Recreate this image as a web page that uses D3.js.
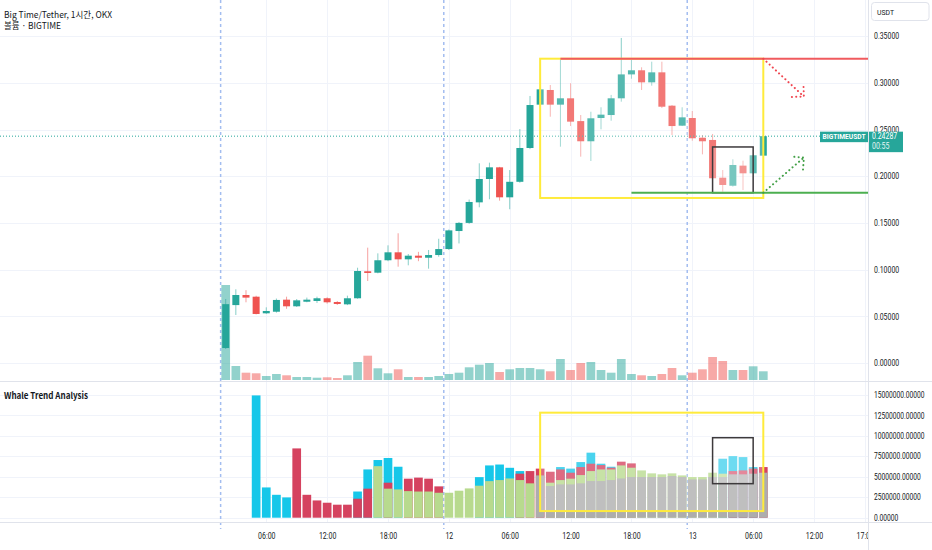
<!DOCTYPE html>
<html>
<head>
<meta charset="utf-8">
<script src="https://cdn.jsdelivr.net/npm/d3@7"></script>
<style>
  body { margin: 0; background: #fff; }
  svg { display: block; }
  text { font-family: "Liberation Sans Narrow", "Noto Sans CJK KR", Roboto, sans-serif; fill: #131722; }
</style>
</head>
<body>
<div id="chart"></div>
<script>
// ---- data ----
const startTime = "2023-10-11T02:00:00Z";   // first 1h candle
const opens  = [0.016,0.062,0.0728,0.071,0.0532,0.0549,0.0678,0.0607,0.0656,0.0664,0.0693,0.0653,0.0628,0.0693,0.0982,0.0967,0.110,0.1185,0.111,0.1149,0.1127,0.1156,0.122,0.1413,0.150,0.172,0.197,0.2095,0.1774,0.194,0.2302,0.2766,0.2923,0.2766,0.2834,0.259,0.2374,0.2623,0.2655,0.2834,0.309,0.3134,0.3005,0.3112,0.2755,0.2541,0.2623,0.2412,0.2388,0.1984,0.1898,0.2113,0.2031,0.222];
const highs  = [0.0685,0.0789,0.078,0.072,0.0596,0.069,0.071,0.0685,0.070,0.071,0.0703,0.0664,0.0721,0.102,0.1235,0.1174,0.126,0.1389,0.1167,0.119,0.121,0.133,0.143,0.151,0.175,0.2138,0.2145,0.210,0.2066,0.2505,0.2859,0.294,0.2976,0.325,0.2995,0.2655,0.269,0.2738,0.287,0.348,0.3244,0.3166,0.3226,0.3226,0.2762,0.2738,0.2698,0.2441,0.2452,0.2066,0.2181,0.2166,0.2224,0.2428];
const lows   = [0.015,0.0514,0.065,0.052,0.0525,0.0539,0.058,0.060,0.065,0.0643,0.0636,0.0621,0.062,0.0688,0.0878,0.096,0.109,0.1031,0.1046,0.109,0.101,0.1138,0.121,0.128,0.149,0.1667,0.1753,0.1738,0.1646,0.193,0.229,0.276,0.2637,0.2316,0.2537,0.2209,0.2163,0.2502,0.2594,0.2798,0.3044,0.2923,0.2969,0.273,0.2441,0.2537,0.238,0.2234,0.1978,0.1834,0.1888,0.1852,0.2025,0.2215];
const closes = [0.063,0.0728,0.070,0.0525,0.0557,0.0675,0.0607,0.0671,0.0678,0.0693,0.065,0.0632,0.0693,0.0985,0.0964,0.110,0.1185,0.111,0.1149,0.1127,0.1156,0.122,0.142,0.150,0.1724,0.197,0.2095,0.1774,0.194,0.2302,0.2762,0.293,0.2766,0.2834,0.2584,0.2374,0.262,0.2659,0.2834,0.309,0.3134,0.3005,0.3112,0.2744,0.2537,0.263,0.2406,0.2374,0.1978,0.1906,0.212,0.2031,0.2224,0.24287];
// volume, millions
const volumes = [9.5,1.4,0.73,0.67,0.4,0.6,0.47,0.3,0.3,0.23,0.27,0.2,0.47,1.8,2.43,1.17,0.67,1.07,0.3,0.3,0.3,0.4,0.6,0.73,1.27,1.53,1.7,0.8,1.07,1.2,1.2,1.07,0.87,2.1,1.0,1.7,1.8,1.0,0.73,2.1,0.6,0.47,0.4,0.6,1.2,0.47,0.73,1.07,2.3,1.9,1.0,1.0,1.37,0.87];

// Whale Trend Analysis columns, millions (null = not drawn / hidden)
const whaleCyan  = [null,null,null,14.95,3.7,2.8,2.48,null,null,null,null,null,null,3.2,5.9,7.05,7.3,6.23,null,null,null,null,null,null,null,4.96,6.39,6.5,6.1,5.7,null,null,null,6.19,6.0,6.8,7.95,6.6,6.23,null,null,null,null,null,null,null,null,null,null,7.21,7.53,7.41,6.19,null];
const whaleRed   = [null,null,null,null,null,null,null,8.47,2.8,2.11,1.83,1.59,1.59,2.32,3.55,null,4.28,null,4.77,4.9,4.77,3.83,null,null,null,null,null,null,null,5.38,5.7,6.0,5.62,5.9,5.5,6.19,6.6,6.43,6.11,6.85,6.64,null,null,null,null,null,null,null,null,null,5.7,5.78,6.0,6.19];
const whaleGreen = [null,null,null,null,null,null,null,null,null,null,null,null,null,null,null,6.3,3.55,3.46,3.25,3.2,3.2,3.05,3.05,3.3,3.58,3.91,4.47,4.6,4.8,4.6,4.2,null,4.28,4.6,4.77,5.21,5.7,5.9,5.9,6.39,6.11,5.78,5.42,5.3,5.42,5.17,4.97,4.97,5.5,5.38,null,null,null,null];
const whaleGray  = [null,null,null,null,null,null,null,null,null,null,null,null,null,null,null,null,null,null,null,null,null,null,null,null,null,null,null,null,null,null,null,5.17,3.87,4.07,4.07,4.2,4.48,4.48,4.6,4.8,4.97,4.97,4.97,4.97,5.09,4.97,4.68,4.68,4.97,4.97,5.3,5.3,5.38,5.5];

const priceTicks = [0, 0.05, 0.10, 0.15, 0.20, 0.25, 0.30, 0.35];
const whaleTicks = [0, 2.5e6, 5e6, 7.5e6, 10e6, 12.5e6, 15e6];
const timeTicks = ["2023-10-11T06:00:00Z","2023-10-11T12:00:00Z","2023-10-11T18:00:00Z","2023-10-12T00:00:00Z","2023-10-12T06:00:00Z","2023-10-12T12:00:00Z","2023-10-12T18:00:00Z","2023-10-13T00:00:00Z","2023-10-13T06:00:00Z","2023-10-13T12:00:00Z","2023-10-13T17:00:00Z"];
const timeLabels = ["06:00","12:00","18:00","12","06:00","12:00","18:00","13","06:00","12:00","17:00"];
const sessionBreaks = ["2023-10-11T01:30:00Z","2023-10-11T23:30:00Z","2023-10-12T23:30:00Z"];

const lastPrice = 0.24287;
// drawings (time, price)
const boxTimes   = ["2023-10-12T09:00:00Z", "2023-10-13T07:00:00Z"];
const boxPrices  = [0.3258, 0.1767];
const boxWhale   = [12.84, 0.81];
const smallTimes = ["2023-10-13T02:00:00Z", "2023-10-13T06:00:00Z"];
const smallPrices = [0.2313, 0.1823];
const smallWhale  = [9.78, 4.16];
const resistance = {from: "2023-10-12T11:00:00Z", price: 0.3258};
const support    = {from: "2023-10-12T18:00:00Z", price: 0.1823};
const arrowDown  = {t: ["2023-10-13T07:00:00Z", "2023-10-13T11:00:00Z"], p: [0.3258, 0.2853]};
const arrowUp    = {t: ["2023-10-13T07:00:00Z", "2023-10-13T11:00:00Z"], p: [0.1823, 0.2200]};

// ---- layout ----
const W = 932, H = 550;
const plotRight = 868;
const mainBottom = 381, lowerTop = 382, lowerBottom = 522;
const up = "#26a69a", down = "#ef5350";

// squeeze numeric labels to the narrow face used in the screenshot
function narrowWidth(s, size) {
  let w = 0;
  for (const ch of s) {
    if (/[0-9]/.test(ch)) w += 0.455 * size;
    else if (ch === "." || ch === ":") w += 0.23 * size;
    else if (/[A-Z]/.test(ch)) w += 0.5 * size;
    else w += 0.45 * size;
  }
  return w;
}
function squeeze(sel, size) {
  sel.each(function () {
    const t = d3.select(this);
    t.attr("textLength", narrowWidth(t.text(), size)).attr("lengthAdjust", "spacingAndGlyphs");
  });
}

const t0 = new Date(startTime);
const bars = opens.map((o, i) => ({
  t: d3.utcHour.offset(t0, i), o, h: highs[i], l: lows[i], c: closes[i], v: volumes[i],
  cy: whaleCyan[i], rd: whaleRed[i], gr: whaleGreen[i], gy: whaleGray[i]
}));

const x = d3.scaleUtc()
  .domain([bars[0].t, bars[bars.length - 1].t])
  .range([225.7, 763.3]);
const yP = d3.scaleLinear().domain([0, 0.35]).range([363, 36.1]);
const yV = d3.scaleLinear().domain([0, d3.max(volumes)]).range([380, 285]);
const yW = d3.scaleLinear().domain([0, 15e6]).range([517.7, 395]);

const svg = d3.select("#chart").append("svg").attr("width", W).attr("height", H);
const defs = svg.append("defs");
defs.append("clipPath").attr("id", "clipMain").append("rect")
  .attr("x", 0).attr("y", 0).attr("width", plotRight).attr("height", mainBottom);
defs.append("clipPath").attr("id", "clipLow").append("rect")
  .attr("x", 0).attr("y", lowerTop).attr("width", plotRight).attr("height", lowerBottom - lowerTop);
defs.append("clipPath").attr("id", "clipTime").append("rect")
  .attr("x", 0).attr("y", 0).attr("width", plotRight).attr("height", 30);

// grid
const grid = svg.append("g").attr("stroke", "#f0f3fa").attr("stroke-width", 1);
grid.selectAll(".hp").data(priceTicks).join("line")
  .attr("x1", 0).attr("x2", plotRight)
  .attr("y1", d => Math.round(yP(d)) + 0.5).attr("y2", d => Math.round(yP(d)) + 0.5);
grid.selectAll(".hw").data(whaleTicks).join("line")
  .attr("x1", 0).attr("x2", plotRight)
  .attr("y1", d => Math.round(yW(d)) + 0.5).attr("y2", d => Math.round(yW(d)) + 0.5);
grid.selectAll(".vt").data(timeTicks).join("line")
  .attr("x1", d => Math.round(x(new Date(d))) + 0.5).attr("x2", d => Math.round(x(new Date(d))) + 0.5)
  .attr("y1", 0).attr("y2", lowerBottom);

// session breaks
svg.append("g").selectAll("line").data(sessionBreaks).join("line")
  .attr("x1", d => x(new Date(d))).attr("x2", d => x(new Date(d)))
  .attr("y1", 0).attr("y2", 529)
  .attr("stroke", "#a3bdf0").attr("stroke-width", 1.5).attr("stroke-dasharray", "3,3");

// ---- main pane ----
const main = svg.append("g").attr("clip-path", "url(#clipMain)");
const bw = 8.7;

main.append("g").selectAll("rect").data(bars).join("rect")
  .attr("x", d => x(d.t) - bw / 2).attr("width", bw)
  .attr("y", d => yV(d.v)).attr("height", d => yV(0) - yV(d.v))
  .attr("fill", d => d.c >= d.o ? up : down).attr("fill-opacity", 0.5);

const candle = main.append("g").selectAll("g").data(bars).join("g");
candle.append("line")
  .attr("x1", d => x(d.t)).attr("x2", d => x(d.t))
  .attr("y1", d => yP(d.h)).attr("y2", d => yP(d.l))
  .attr("stroke", d => d.c >= d.o ? up : down).attr("stroke-opacity", 0.55).attr("stroke-width", 1);
candle.append("rect")
  .attr("x", d => x(d.t) - 3.5).attr("width", 7)
  .attr("y", d => yP(Math.max(d.o, d.c)))
  .attr("height", d => Math.max(1.2, Math.abs(yP(d.o) - yP(d.c))))
  .attr("fill", d => d.c >= d.o ? up : down);

// last price line
main.append("line")
  .attr("x1", 0).attr("x2", plotRight)
  .attr("y1", yP(lastPrice)).attr("y2", yP(lastPrice))
  .attr("stroke", up).attr("stroke-width", 1).attr("stroke-dasharray", "1,2");

// drawings
function drawBox(g, ys, times, vals, stroke, fillOp, sw) {
  const x0 = x(new Date(times[0])), x1 = x(new Date(times[1]));
  const y0 = ys(vals[0]), y1 = ys(vals[1]);
  g.append("rect")
    .attr("x", x0).attr("y", Math.min(y0, y1))
    .attr("width", x1 - x0).attr("height", Math.abs(y1 - y0))
    .attr("fill", "#fff").attr("fill-opacity", fillOp)
    .attr("stroke", stroke).attr("stroke-width", sw);
}
function drawArrow(g, a, color) {
  const p0 = [x(new Date(a.t[0])), yP(a.p[0])];
  const p1 = [x(new Date(a.t[1])), yP(a.p[1])];
  const ang = Math.atan2(p1[1] - p0[1], p1[0] - p0[0]) + Math.PI;
  const len = 12;
  const w1 = [p1[0] + len * Math.cos(ang - Math.PI / 4), p1[1] + len * Math.sin(ang - Math.PI / 4)];
  const w2 = [p1[0] + len * Math.cos(ang + Math.PI / 4), p1[1] + len * Math.sin(ang + Math.PI / 4)];
  const line = d3.line();
  [[p0, p1], [w1, p1, w2]].forEach(pts => {
    g.append("path").attr("d", line(pts)).attr("fill", "none")
      .attr("stroke", color).attr("stroke-width", 2)
      .attr("stroke-linecap", "round").attr("stroke-dasharray", "0.1,4.2");
  });
}

const draw = svg.append("g");
drawBox(draw, yP, boxTimes, boxPrices, "#ffeb3b", 0.22, 2);
drawBox(draw, yP, smallTimes, smallPrices, "#3d3a3c", 0.2, 1.5);
draw.append("line")
  .attr("x1", x(new Date(resistance.from))).attr("x2", plotRight)
  .attr("y1", yP(resistance.price)).attr("y2", yP(resistance.price))
  .attr("stroke", "#f05a5e").attr("stroke-width", 2);
draw.append("line")
  .attr("x1", x(new Date(support.from))).attr("x2", plotRight)
  .attr("y1", yP(support.price)).attr("y2", yP(support.price))
  .attr("stroke", "#4caf50").attr("stroke-width", 2);
drawArrow(draw, arrowDown, "#f0454f");
drawArrow(draw, arrowUp, "#43a047");

// ---- lower pane ----
const low = svg.append("g").attr("clip-path", "url(#clipLow)");
const series = [["cy", "#16c7e9"], ["rd", "#d5425f"], ["gr", "#b8da8e"], ["gy", "#adadad"]];
series.forEach(([k, col]) => {
  low.append("g").selectAll("rect").data(bars.filter(d => d[k] != null)).join("rect")
    .attr("x", d => x(d.t) - bw / 2).attr("width", bw)
    .attr("y", d => yW(d[k] * 1e6)).attr("height", d => yW(0) - yW(d[k] * 1e6))
    .attr("fill", col);
});
const lowDraw = svg.append("g");
drawBox(lowDraw, yW, boxTimes, boxWhale.map(v => v * 1e6), "#ffeb3b", 0.22, 2);
drawBox(lowDraw, yW, smallTimes, smallWhale.map(v => v * 1e6), "#3d3a3c", 0.2, 1.5);

// ---- frame ----
svg.append("line").attr("x1", 0).attr("x2", W).attr("y1", mainBottom + 0.5).attr("y2", mainBottom + 0.5)
  .attr("stroke", "#e0e3eb");
svg.append("line").attr("x1", 0).attr("x2", W).attr("y1", lowerBottom + 0.5).attr("y2", lowerBottom + 0.5)
  .attr("stroke", "#e0e3eb");
svg.append("line").attr("x1", plotRight + 0.5).attr("x2", plotRight + 0.5).attr("y1", 0).attr("y2", H)
  .attr("stroke", "#e0e3eb");

// ---- axes ----
const fmt5 = d3.format(".5f");
const axP = svg.append("g").attr("transform", `translate(${plotRight},0)`)
  .call(d3.axisRight(yP).tickValues(priceTicks).tickFormat(fmt5).tickSize(0).tickPadding(6));
const axW = svg.append("g").attr("transform", `translate(${plotRight},0)`)
  .call(d3.axisRight(yW).tickValues(whaleTicks).tickFormat(fmt5).tickSize(0).tickPadding(6));
const axT = svg.append("g").attr("transform", `translate(0,${lowerBottom})`)
  .call(d3.axisBottom(x).tickValues(timeTicks.map(d => new Date(d)))
    .tickFormat((d, i) => timeLabels[i]).tickSize(0).tickPadding(11));
axT.attr("clip-path", "url(#clipTime)");
[[axP, 8.5], [axW, 8.2], [axT, 8.5]].forEach(([a, fs]) => {
  a.select(".domain").remove();
  a.selectAll("text").attr("font-size", fs).attr("fill", "#131722")
    .style("font-family", 'Roboto, sans-serif');
  squeeze(a.selectAll("text"), fs);
});

// USDT unit box
svg.append("rect").attr("x", 871.5).attr("y", 2.5).attr("width", 57.5).attr("height", 18).attr("rx", 3)
  .attr("fill", "#fff").attr("stroke", "#e0e3eb");
svg.append("text").attr("x", 877).attr("y", 14.5).attr("font-size", 8).style("font-family", "Roboto, sans-serif")
  .attr("textLength", 17).attr("lengthAdjust", "spacingAndGlyphs").text("USDT");

// last price labels
const ly = yP(lastPrice);
svg.append("rect").attr("x", 820).attr("y", ly - 4.5).attr("width", 48).attr("height", 10.5).attr("fill", up);
svg.append("text").attr("x", 822.5).attr("y", ly + 3.3)
  .attr("font-size", 7.5).attr("font-weight", "bold").style("fill", "#fff").style("font-family", "Roboto, sans-serif")
  .attr("textLength", 43).attr("lengthAdjust", "spacingAndGlyphs").text("BIGTIMEUSDT");
svg.append("rect").attr("x", 869).attr("y", ly - 4.5).attr("width", 34).attr("height", 20.5).attr("fill", up);
const lp1 = svg.append("text").attr("x", 872).attr("y", ly + 3.3).attr("font-size", 8.5)
  .style("fill", "#fff").style("font-family", "Roboto, sans-serif").text(fmt5(lastPrice));
const lp2 = svg.append("text").attr("x", 872).attr("y", ly + 13.3).attr("font-size", 8.5)
  .style("fill", "#e6f5f3").style("font-family", "Roboto, sans-serif").text("00:55");
squeeze(lp1, 8.5);
squeeze(lp2, 8.5);

// titles
svg.append("text").attr("x", 4).attr("y", 17.5).attr("font-size", 9)
  .attr("textLength", 108).attr("lengthAdjust", "spacingAndGlyphs").text("Big Time/Tether, 1시간, OKX");
svg.append("text").attr("x", 4).attr("y", 29).attr("font-size", 9)
  .attr("textLength", 57).attr("lengthAdjust", "spacingAndGlyphs").text("볼륨 · BIGTIME");
svg.append("text").attr("x", 4).attr("y", 398.5).attr("font-size", 9).attr("font-weight", "bold")
  .attr("textLength", 84).attr("lengthAdjust", "spacingAndGlyphs").text("Whale Trend Analysis");
</script>
</body>
</html>
